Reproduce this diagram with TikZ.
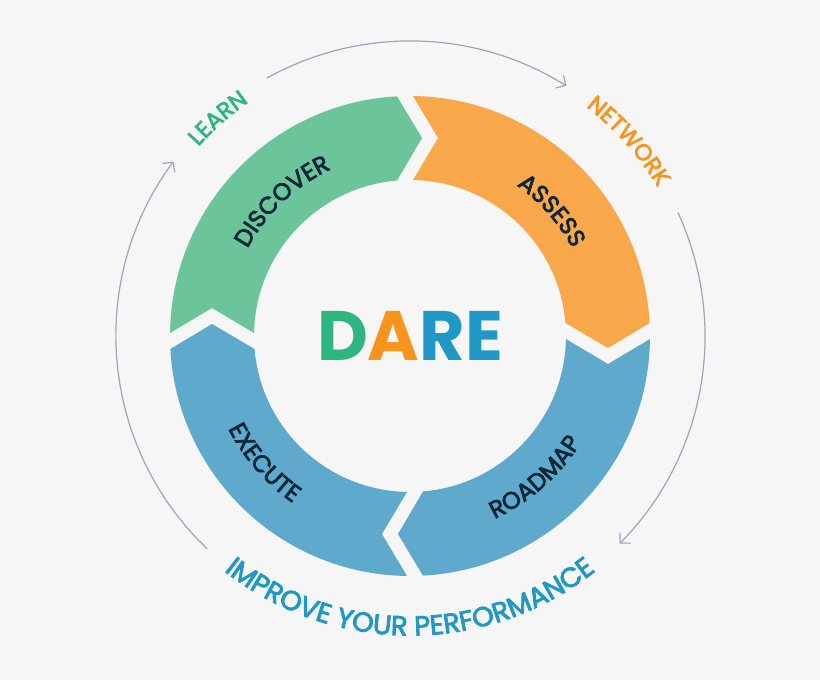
\documentclass[tikz,border=0pt]{standalone}
\usepackage{fontspec}
\setmainfont{Poppins}
\newfontfamily\labfont[FakeBold=3]{Poppins}
\usetikzlibrary{decorations.text,arrows.meta}
\definecolor{bg}{RGB}{246,246,246}
\definecolor{cGr}{RGB}{107,196,154}
\definecolor{cOr}{RGB}{248,168,74}
\definecolor{cBl}{RGB}{94,169,204}
\definecolor{navy}{RGB}{14,38,56}
\definecolor{dD}{RGB}{46,182,128}
\definecolor{dA}{RGB}{247,148,30}
\definecolor{dRE}{RGB}{31,152,197}
\definecolor{gArr}{RGB}{155,167,184}
\newcommand{\segpath}{(89.28:240) arc[start angle=89.28,end angle=3.1,radius=240] -- (198,-12) -- (4.78:156) arc[start angle=4.78,end angle=88.9,radius=156] -- (28,198) -- cycle}
\newcommand{\seglab}{\labfont\fontsize{24}{28}\selectfont\color{navy}}
\newcommand{\outlab}{\labfont\fontsize{23}{27}\selectfont}
\tikzset{
  garrow/.style={draw=gArr,line width=1.2pt,-{Straight Barb[length=7pt,width=15pt]}},
  arctext/.style={decorate,decoration={text along path,text align=center,text={#1}}}
}
\begin{document}
\begin{tikzpicture}[x=1pt,y=1pt]
\fill[bg] (-410,-344) rectangle (410,336);
\useasboundingbox (-410,-344) rectangle (410,336);
% segments
\begin{scope}\fill[cOr] \segpath;\end{scope}
\begin{scope}[rotate=-90]\fill[cBl] \segpath;\end{scope}
\begin{scope}[rotate=180]\fill[cBl] \segpath;\end{scope}
\begin{scope}[rotate=90]\fill[cGr] \segpath;\end{scope}
% gray cycle arrows
\draw[garrow] (119:295) arc[start angle=119,end angle=58,radius=295];
\draw[garrow] (24.7:295) arc[start angle=24.7,end angle=-44.7,radius=295];
\draw[garrow] (226.4:294) arc[start angle=226.4,end angle=143.6,radius=294];
% center
\node (dare) at (0,0) {\fontsize{70}{70}\selectfont\bfseries\textcolor{dD}{D}\textcolor{dA}{A}\textcolor{dRE}{RE}};
% segment labels
\path[arctext={|\seglab|DISCOVER}] (173.5:184.5) arc[start angle=173.5,end angle=93.5,radius=184.5];
\path[arctext={|\seglab|ASSESS}] (81.5:184.5) arc[start angle=81.5,end angle=1.5,radius=184.5];
\path[arctext={|\seglab|ROADMAP}] (-88.5:201.5) arc[start angle=-88.5,end angle=-8.5,radius=201.5];
\path[arctext={|\seglab|EXECUTE}] (181:204) arc[start angle=181,end angle=261,radius=204];
% outer labels
\path[arctext={|\outlab\color{dD}|LEARN}] (171.4:284) arc[start angle=171.4,end angle=91.4,radius=284];
\path[arctext={|\outlab\color{dA}|NETWORK}] (81.7:289) arc[start angle=81.7,end angle=1.7,radius=289];
\path[arctext={|\labfont\fontsize{27.5}{31}\selectfont\color{dRE}|IMPROVE YOUR PERFORMANCE}] (-150:299.5) arc[start angle=-150,end angle=-30,radius=299.5];
\end{tikzpicture}
\end{document}
